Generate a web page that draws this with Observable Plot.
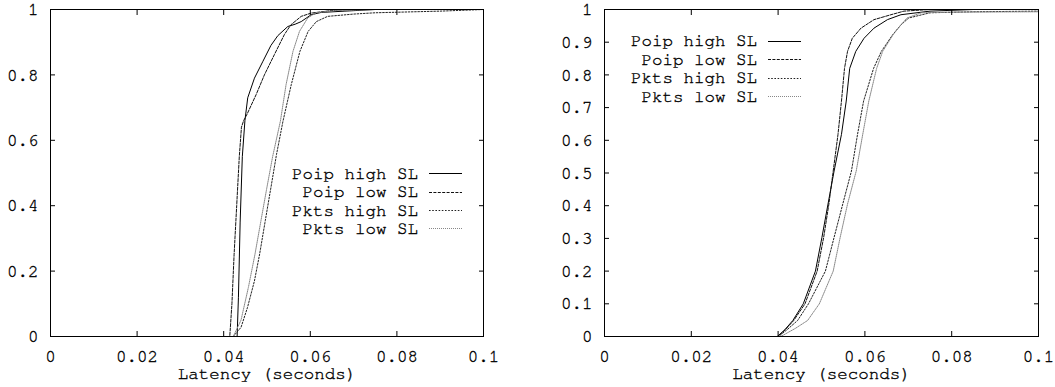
<!DOCTYPE html>
<html><head><meta charset="utf-8">
<script src="https://cdn.jsdelivr.net/npm/d3@7"></script>
<script src="https://cdn.jsdelivr.net/npm/@observablehq/plot@0.6"></script>
<style>
html,body{margin:0;padding:0;background:#fff;}
#wrap{display:flex;width:1055px;height:387px;overflow:hidden;}
#wrap svg{display:block;background:#fff;}
#wrap svg text{stroke:#000;stroke-width:0.35px;}
</style></head><body><div id="wrap"></div>
<script>
// ---- data ----
const seriesNames = ["Poip high SL", "Poip low SL", "Pkts high SL", "Pkts low SL"];
const xLabel = "Latency (seconds)";
const xTicks = [0, 0.02, 0.04, 0.06, 0.08, 0.1];
const xTickLabels = ["0", "0.02", "0.04", "0.06", "0.08", "0.1"];
const leftYTicks = [0, 0.2, 0.4, 0.6, 0.8, 1];
const leftYTickLabels = ["0", "0.2", "0.4", "0.6", "0.8", "1"];
const rightYTicks = [0, 0.1, 0.2, 0.3, 0.4, 0.5, 0.6, 0.7, 0.8, 0.9, 1];
const rightYTickLabels = ["0", "0.1", "0.2", "0.3", "0.4", "0.5", "0.6", "0.7", "0.8", "0.9", "1"];

// left panel
const leftPoipHighX = [0, 0.0431, 0.0434, 0.0438, 0.0443, 0.0449, 0.04555, 0.0471, 0.0490, 0.0509, 0.0525, 0.0548, 0.0565, 0.0579, 0.0602, 0.0625, 0.068, 0.075, 0.1];
const leftPoipHighY = [0, 0, 0.12, 0.35, 0.55, 0.66, 0.73, 0.79, 0.84, 0.89, 0.92, 0.948, 0.955, 0.963, 0.984, 0.991, 0.995, 1, 1];
const leftPoipLowX = [0, 0.0414, 0.0419, 0.0424, 0.0430, 0.0436, 0.0441, 0.0446, 0.0454, 0.0475, 0.0494, 0.0517, 0.054, 0.0555, 0.0579, 0.0602, 0.065, 0.07, 0.1];
const leftPoipLowY = [0, 0, 0.1, 0.25, 0.4, 0.55, 0.64, 0.66, 0.68, 0.74, 0.80, 0.862, 0.923, 0.953, 0.979, 0.989, 0.997, 1, 1];
const leftPktsHighX = [0, 0.0422, 0.044, 0.0455, 0.0471, 0.0483, 0.0496, 0.0509, 0.0522, 0.0537, 0.0556, 0.0576, 0.0595, 0.0614, 0.064, 0.07, 0.075, 0.09, 0.1];
const leftPktsHighY = [0, 0, 0.028, 0.089, 0.17, 0.252, 0.354, 0.455, 0.557, 0.659, 0.77, 0.872, 0.933, 0.963, 0.979, 0.986, 0.99, 0.995, 1];
const leftPktsLowX = [0, 0.0422, 0.044, 0.0457, 0.0472, 0.0486, 0.0499, 0.0513, 0.0531, 0.0544, 0.056, 0.0575, 0.0594, 0.0613, 0.066, 0.075, 0.1];
const leftPktsLowY = [0, 0, 0.05, 0.15, 0.25, 0.354, 0.45, 0.55, 0.659, 0.77, 0.872, 0.933, 0.974, 0.99, 0.997, 1, 1];

// right panel
const rightPoipHighX = [0, 0.0398, 0.0415, 0.0434, 0.0458, 0.0486, 0.0501, 0.0515, 0.0529, 0.0546, 0.0557, 0.0565, 0.0579, 0.0598, 0.0621, 0.0652, 0.0683, 0.075, 0.085, 0.1];
const rightPoipHighY = [0, 0, 0.02, 0.049, 0.1, 0.2, 0.303, 0.405, 0.506, 0.618, 0.72, 0.82, 0.872, 0.912, 0.943, 0.969, 0.984, 0.995, 1, 1];
const rightPoipLowX = [0, 0.04, 0.0416, 0.0436, 0.0462, 0.049, 0.0505, 0.0517, 0.0527, 0.0538, 0.0546, 0.0553, 0.056, 0.0571, 0.0591, 0.0621, 0.066, 0.069, 0.075, 0.1];
const rightPoipLowY = [0, 0, 0.02, 0.049, 0.1, 0.2, 0.303, 0.405, 0.506, 0.618, 0.72, 0.82, 0.872, 0.912, 0.943, 0.969, 0.984, 0.995, 1, 1];
const rightPktsHighX = [0, 0.0401, 0.042, 0.0445, 0.047, 0.0509, 0.0529, 0.0549, 0.0569, 0.0583, 0.0597, 0.062, 0.0638, 0.0664, 0.0683, 0.0701, 0.075, 0.085, 0.1];
const rightPktsHighY = [0, 0, 0.02, 0.049, 0.1, 0.2, 0.303, 0.405, 0.506, 0.618, 0.72, 0.82, 0.872, 0.923, 0.953, 0.974, 0.99, 0.993, 0.995];
const rightPktsLowX = [0, 0.0405, 0.0413, 0.044, 0.0468, 0.0495, 0.0527, 0.0543, 0.056, 0.058, 0.0595, 0.0609, 0.0627, 0.0641, 0.0665, 0.0683, 0.0697, 0.073, 0.08, 0.1];
const rightPktsLowY = [0, 0, 0.005, 0.025, 0.049, 0.1, 0.2, 0.303, 0.405, 0.506, 0.618, 0.72, 0.82, 0.872, 0.923, 0.953, 0.974, 0.99, 0.992, 0.993];

// ---- styles ----
const FONT = '"Nimbus Mono PS", "FreeMono", "Courier", "Liberation Mono", "DejaVu Sans Mono", monospace';
const FS = 17.5;
const lineStyles = [
  {stroke: "#000", dash: null},
  {stroke: "#111", dash: "3,1.4"},
  {stroke: "#222", dash: "1.6,1.6"},
  {stroke: "#888", dash: "1,1"}
];

function rows(xs, ys, name) {
  return xs.map((x, i) => ({x, y: ys[i], name}));
}

function legendMark(opts) {
  return (index, scales, values, dims) => {
    const g = d3.create("svg:g")
      .attr("font-family", FONT).attr("font-size", FS);
    const xr = dims.width - dims.marginRight;
    seriesNames.forEach((name, i) => {
      const y = opts.top + i * opts.step;
      g.append("text")
        .attr("x", xr + opts.textEnd).attr("y", y).attr("dy", "0.32em")
        .attr("text-anchor", "end").attr("fill", "#000").text(name);
      const ln = g.append("line")
        .attr("x1", xr + opts.lineStart).attr("x2", xr + opts.lineEnd)
        .attr("y1", Math.round(y) + 0.5).attr("y2", Math.round(y) + 0.5)
        .attr("stroke", lineStyles[i].stroke).attr("stroke-width", 1);
      if (lineStyles[i].dash) ln.attr("stroke-dasharray", lineStyles[i].dash);
    });
    return g.node();
  };
}

function panel(cfg) {
  const lines = cfg.series.map((s, i) => Plot.line(s, {
    x: "x", y: "y", stroke: lineStyles[i].stroke, strokeWidth: 1,
    strokeDasharray: lineStyles[i].dash || undefined
  }));
  return Plot.plot({
    width: cfg.width, height: 387,
    marginLeft: cfg.ml, marginRight: cfg.mr, marginTop: 9, marginBottom: 51,
    style: {fontFamily: FONT, fontSize: FS + "px", color: "#000", background: "#fff"},
    x: {domain: [0, 0.1]},
    y: {domain: [0, 1]},
    marks: [
      ...lines,
      Plot.frame({stroke: "#000"}),
      Plot.axisX(xTicks, {anchor: "bottom", tickSize: 0, tickPadding: 20, lineAnchor: "middle",
        tickFormat: (d, i) => xTickLabels[i], label: null}),
      Plot.axisX(xTicks, {anchor: "bottom", tickSize: -5, tickFormat: () => "", label: null}),
      Plot.axisX(xTicks, {anchor: "top", tickSize: -5, tickFormat: () => "", label: null}),
      Plot.axisY(cfg.yTicks, {anchor: "left", tickSize: 0, tickPadding: 12,
        tickFormat: (d, i) => cfg.yTickLabels[i], label: null}),
      Plot.axisY(cfg.yTicks, {anchor: "left", tickSize: -5, tickFormat: () => "", label: null}),
      Plot.axisY(cfg.yTicks, {anchor: "right", tickSize: -5, tickFormat: () => "", label: null}),
      Plot.text([xLabel], {frameAnchor: "bottom", dy: 42, text: d => d, fill: "#000"}),
      legendMark(cfg.legend)
    ]
  });
}

const wrap = document.getElementById("wrap");
wrap.append(panel({
  width: 530, ml: 50, mr: 47,
  yTicks: leftYTicks, yTickLabels: leftYTickLabels,
  series: [
    rows(leftPoipHighX, leftPoipHighY, seriesNames[0]),
    rows(leftPoipLowX, leftPoipLowY, seriesNames[1]),
    rows(leftPktsHighX, leftPktsHighY, seriesNames[2]),
    rows(leftPktsLowX, leftPktsLowY, seriesNames[3])
  ],
  legend: {top: 173.3, step: 18.35, textEnd: -65, lineStart: -54, lineEnd: -21}
}));
wrap.append(panel({
  width: 525, ml: 74, mr: 17,
  yTicks: rightYTicks, yTickLabels: rightYTickLabels,
  series: [
    rows(rightPoipHighX, rightPoipHighY, seriesNames[0]),
    rows(rightPoipLowX, rightPoipLowY, seriesNames[1]),
    rows(rightPktsHighX, rightPktsHighY, seriesNames[2]),
    rows(rightPktsLowX, rightPktsLowY, seriesNames[3])
  ],
  legend: {top: 40.5, step: 18.5, textEnd: -281, lineStart: -270, lineEnd: -237}
}));
</script>
</body></html>
